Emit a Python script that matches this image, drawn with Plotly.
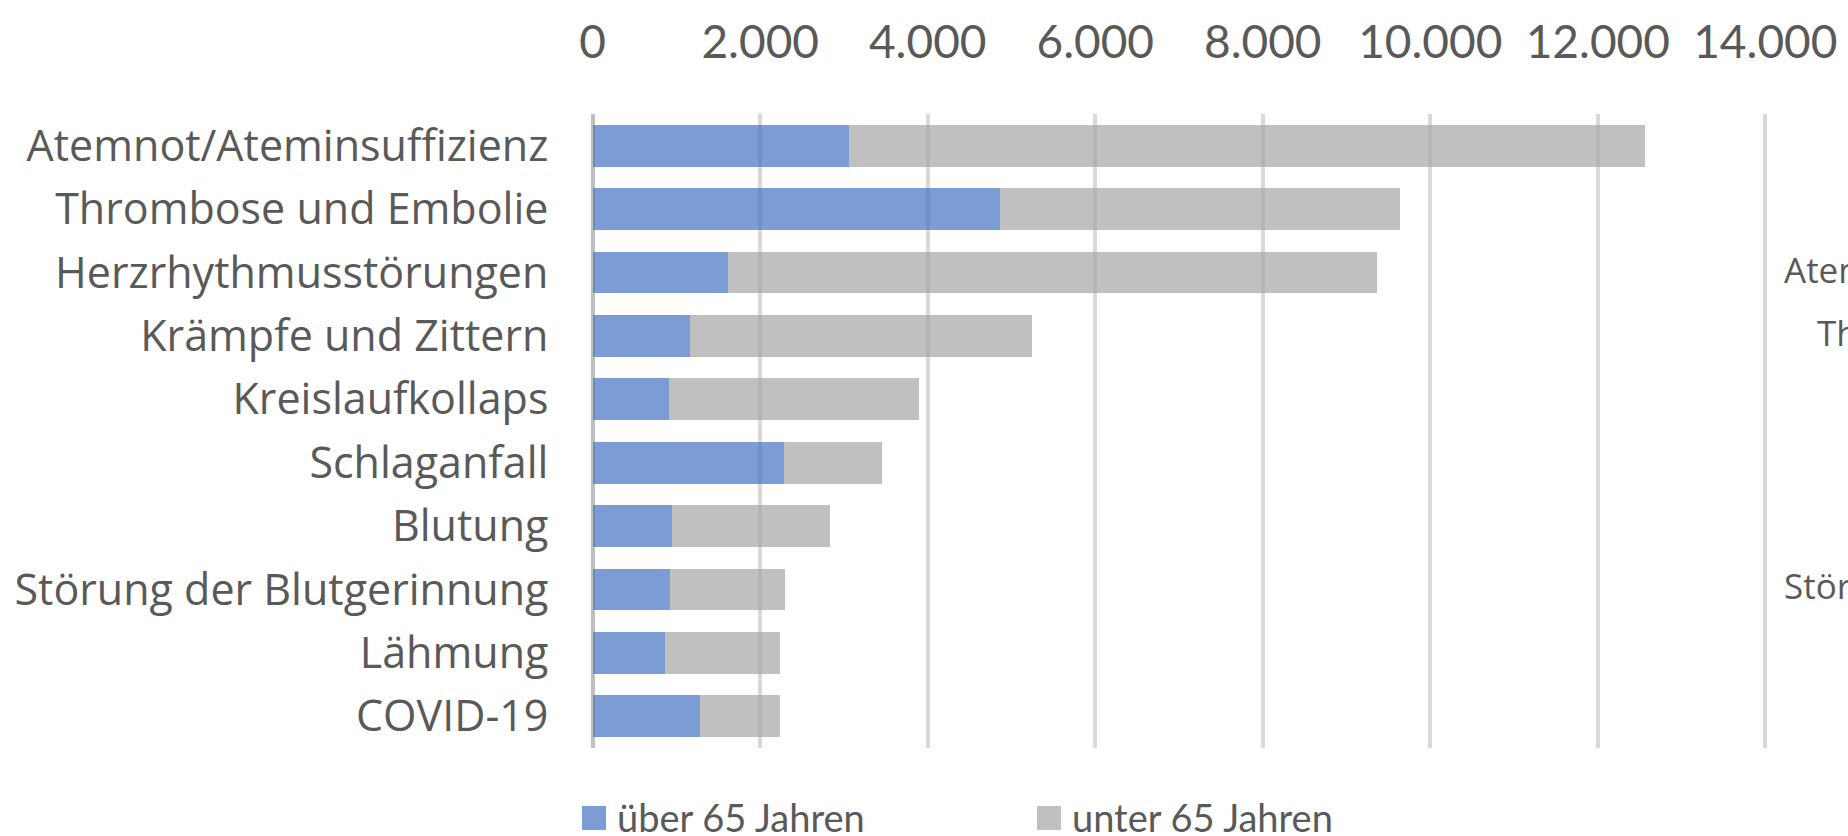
import plotly.graph_objects as go

categories = [
    "Atemnot/Ateminsuffizienz",
    "Thrombose und Embolie",
    "Herzrhythmusstörungen",
    "Krämpfe und Zittern",
    "Kreislaufkollaps",
    "Schlaganfall",
    "Blutung",
    "Störung der Blutgerinnung",
    "Lähmung",
    "COVID-19",
]
ueber_65 = [3060, 4860, 1620, 1160, 910, 2280, 950, 920, 860, 1280]
unter_65 = [9500, 4780, 7740, 4090, 2980, 1170, 1880, 1380, 1380, 955]
series_names = ["über 65 Jahren", "unter 65 Jahren"]
series_colors = ["#4472C4", "#A5A5A5"]
x_ticks = [0, 2000, 4000, 6000, 8000, 10000, 12000, 14000]
side_fragments = ["Atemnot/Ateminsuffizienz", "Thrombose und Embolie", "Störung der Blutgerinnung"]

W, H = 1848, 836
ML, MR, MT, MB = 591, 81, 114, 88
pw, ph = W - ML - MR, H - MT - MB

def px(x):
    return (x - ML) / pw

def py(y):
    return (H - MB - y) / ph

fig = go.Figure()
for name, vals, col in zip(series_names, [ueber_65, unter_65], series_colors):
    fig.add_trace(go.Bar(
        y=categories, x=vals, name=name, orientation="h",
        marker=dict(color=col, opacity=0.7, line=dict(width=0)),
        showlegend=False,
    ))

fig.update_layout(
    width=W, height=H,
    margin=dict(l=ML, r=MR, t=MT, b=MB, pad=0, autoexpand=False),
    barmode="stack", bargap=0.34,
    plot_bgcolor="white", paper_bgcolor="white",
    separators=",.",
    font=dict(family="Lato", color="#595959"),
)
fig.update_xaxes(
    side="top", range=[-20, 14020], tickvals=x_ticks, tickformat=",d",
    automargin=False,
    showgrid=True, gridcolor="#d9d9d9", gridwidth=4,
    zeroline=True, zerolinecolor="#bfbfbf", zerolinewidth=4,
    showline=False, ticks="outside", ticklen=37, tickcolor="rgba(0,0,0,0)",
    tickfont=dict(family="Lato", size=46, color="#595959"),
)
fig.update_yaxes(
    range=[len(categories) - 0.5, -0.5], automargin=False,
    showgrid=False, zeroline=False, showline=False,
    ticks="outside", ticklen=33, tickcolor="rgba(0,0,0,0)",
    tickfont=dict(family="Open Sans", size=43, color="#595959"),
)

# custom legend
legend_items = [(582, 615), (1037, 1070)]
for (sx, tx), name, col in zip(legend_items, series_names, series_colors):
    fig.add_shape(type="rect", xref="paper", yref="paper",
                  x0=px(sx), x1=px(sx + 24), y0=py(806), y1=py(830),
                  fillcolor=col, opacity=0.7, line=dict(width=0))
    fig.add_annotation(xref="paper", yref="paper", x=px(tx), y=py(817),
                       text=name, showarrow=False, xanchor="left", yanchor="middle",
                       font=dict(family="Lato", size=38, color="#595959"))

# clipped labels from neighbouring chart at the right edge
for txt, lx, cy in zip(side_fragments, [1782, 1815, 1782], [269, 332, 585]):
    fig.add_annotation(xref="paper", yref="paper", x=px(lx), y=py(cy),
                       text=txt, showarrow=False, xanchor="left", yanchor="middle",
                       font=dict(family="Open Sans", size=35, color="#595959"))

fig.write_html("out.html", config={"displayModeBar": False},
               post_script="document.body.style.margin='0';document.body.style.overflow='hidden';")
